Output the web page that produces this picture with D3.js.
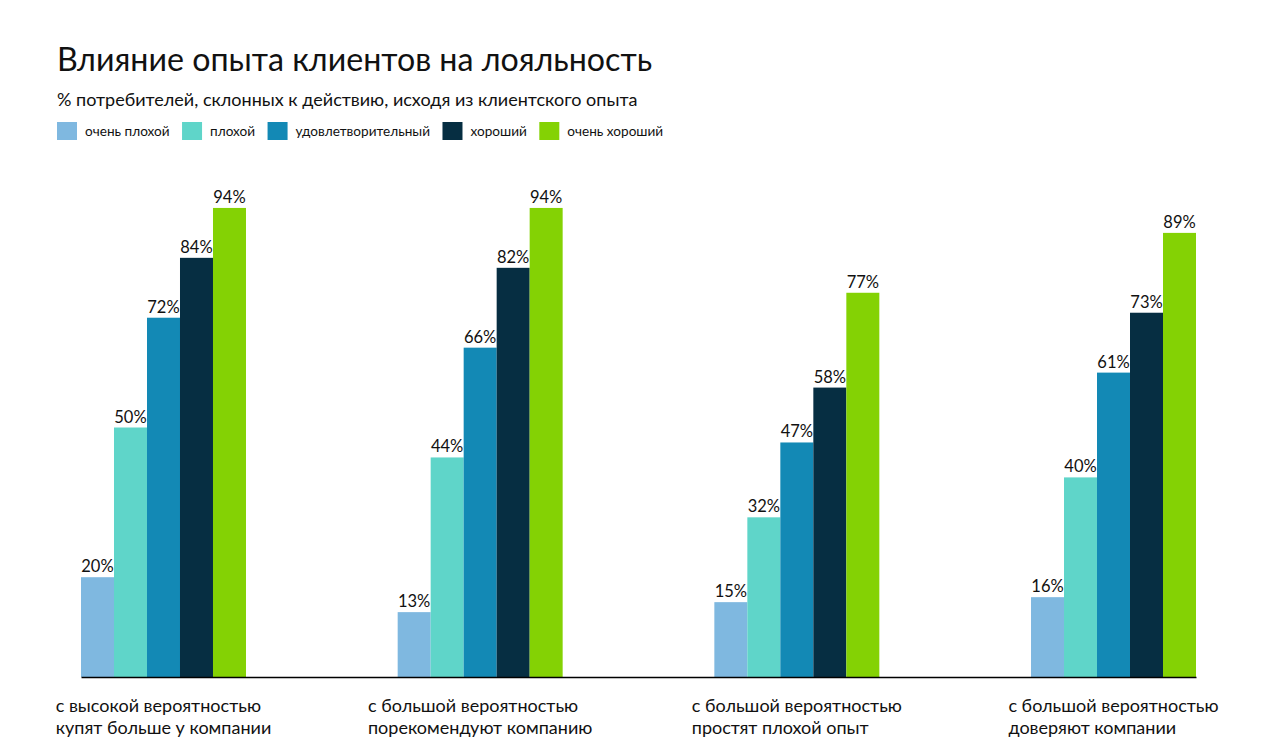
<!DOCTYPE html>
<html><head><meta charset="utf-8">
<script src="https://cdn.jsdelivr.net/npm/d3@7/dist/d3.min.js"></script>
<style>
body{margin:0;background:#fff;}
svg{font-family:Lato, "Noto Sans", sans-serif;}
</style></head>
<body><svg id="c" width="1280" height="756"></svg>
<script>
const categories = [
  ["с высокой вероятностью","купят больше у компании"],
  ["с большой вероятностью","порекомендуют компанию"],
  ["с большой вероятностью","простят плохой опыт"],
  ["с большой вероятностью","доверяют компании"]
];
const seriesNames = ["очень плохой","плохой","удовлетворительный","хороший","очень хороший"];
const seriesColors = ["#7fb8e0","#5fd5c9","#1389b5","#062e42","#84d204"];
const veryBad = [20,13,15,16];
const bad = [50,44,32,40];
const satisfactory = [72,66,47,61];
const good = [84,82,58,73];
const veryGood = [94,94,77,89];
const seriesValues = [veryBad,bad,satisfactory,good,veryGood];

const svg = d3.select("#c");
svg.append("text").attr("x",57).attr("y",71).attr("font-size",32.2).attr("fill","#111").text("Влияние опыта клиентов на лояльность");
svg.append("text").attr("x",57).attr("y",106).attr("font-size",18).attr("fill","#111").text("% потребителей, склонных к действию, исходя из клиентского опыта");

// legend
let lx = 57;
seriesNames.forEach((n,i)=>{
  const g = svg.append("g");
  g.append("rect").attr("x",lx).attr("y",122).attr("width",20).attr("height",18).attr("fill",seriesColors[i]);
  const t = g.append("text").attr("x",lx+28).attr("y",136).attr("font-size",13.6).attr("fill","#111").text(n);
  lx += 28 + t.node().getComputedTextLength() + 12.5;
});

const x0 = d3.scaleBand().domain(d3.range(categories.length)).range([81,1196]).paddingInner(0.479).paddingOuter(0);
const x1 = d3.scaleBand().domain(d3.range(seriesNames.length)).range([0,x0.bandwidth()]).padding(0);
const y = d3.scaleLinear().domain([0,100]).range([677,178]);

const groups = svg.selectAll("g.grp").data(categories).join("g").attr("class","grp")
  .attr("transform",(d,i)=>`translate(${x0(i)},0)`);
groups.each(function(d,ci){
  const g = d3.select(this);
  const data = seriesValues.map((s,si)=>({si,v:s[ci]}));
  g.selectAll("rect").data(data).join("rect")
    .attr("x",d=>x1(d.si)).attr("width",x1.bandwidth())
    .attr("y",d=>y(d.v)).attr("height",d=>y(0)-y(d.v))
    .attr("fill",d=>seriesColors[d.si]);
  g.selectAll("text.val").data(data).join("text").attr("class","val")
    .attr("x",d=>x1(d.si)+x1.bandwidth()/2).attr("y",d=>y(d.v)-5)
    .attr("text-anchor","middle").attr("font-size",16.5).attr("fill","#111")
    .text(d=>d.v+"%");
});

// baseline axis
const axis = d3.axisBottom(x0).tickSize(0).tickFormat("");
const ax = svg.append("g").attr("transform",`translate(0,${y(0)})`).call(axis);
ax.select(".domain").attr("stroke","#000").attr("stroke-width",1.5);

// category labels
categories.forEach((lines,ci)=>{
  const g = svg.append("g");
  const ts = lines.map((l,li)=>g.append("text").attr("y",712+li*22).attr("font-size",18).attr("fill","#111").text(l));
  const w = d3.max(ts,t=>t.node().getComputedTextLength());
  const cx = x0(ci)+x0.bandwidth()/2;
  ts.forEach(t=>t.attr("x",cx-w/2));
});
</script></body></html>
